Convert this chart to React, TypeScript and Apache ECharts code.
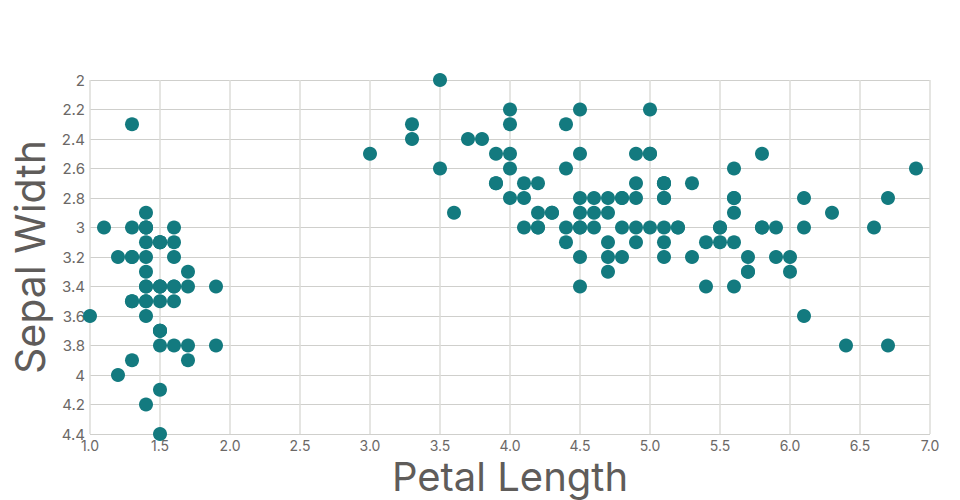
import React, { useEffect, useRef } from "react";
import * as echarts from "echarts";

const petalLength: number[] = [
  1.4, 1.4, 1.3, 1.5, 1.4, 1.7, 1.4, 1.5, 1.4, 1.5, 1.5, 1.6, 1.4, 1.1, 1.2, 1.5, 1.3, 1.4, 1.7, 1.5,
  1.7, 1.5, 1.0, 1.7, 1.9, 1.6, 1.6, 1.5, 1.4, 1.6, 1.6, 1.5, 1.5, 1.4, 1.5, 1.2, 1.3, 1.4, 1.3, 1.5,
  1.3, 1.3, 1.3, 1.6, 1.9, 1.4, 1.6, 1.4, 1.5, 1.4,
  4.7, 4.5, 4.9, 4.0, 4.6, 4.5, 4.7, 3.3, 4.6, 3.9, 3.5, 4.2, 4.0, 4.7, 3.6, 4.4, 4.5, 4.1, 4.5, 3.9,
  4.8, 4.0, 4.9, 4.7, 4.3, 4.4, 4.8, 5.0, 4.5, 3.5, 3.8, 3.7, 3.9, 5.1, 4.5, 4.5, 4.7, 4.4, 4.1, 4.0,
  4.4, 4.6, 4.0, 3.3, 4.2, 4.2, 4.2, 4.3, 3.0, 4.1,
  6.0, 5.1, 5.9, 5.6, 5.8, 6.6, 4.5, 6.3, 5.8, 6.1, 5.1, 5.3, 5.5, 5.0, 5.1, 5.3, 5.5, 6.7, 6.9, 5.0,
  5.7, 4.9, 6.7, 4.9, 5.7, 6.0, 4.8, 4.9, 5.6, 5.8, 6.1, 6.4, 5.6, 5.1, 5.6, 6.1, 5.6, 5.5, 4.8, 5.4,
  5.6, 5.1, 5.1, 5.9, 5.7, 5.2, 5.0, 5.2, 5.4, 5.1,
];

const sepalWidth: number[] = [
  3.5, 3.0, 3.2, 3.1, 3.6, 3.9, 3.4, 3.4, 2.9, 3.1, 3.7, 3.4, 3.0, 3.0, 4.0, 4.4, 3.9, 3.5, 3.8, 3.8,
  3.4, 3.7, 3.6, 3.3, 3.4, 3.0, 3.4, 3.5, 3.4, 3.2, 3.1, 3.4, 4.1, 4.2, 3.1, 3.2, 3.5, 3.1, 3.0, 3.4,
  3.5, 2.3, 3.2, 3.5, 3.8, 3.0, 3.8, 3.2, 3.7, 3.3,
  3.2, 3.2, 3.1, 2.3, 2.8, 2.8, 3.3, 2.4, 2.9, 2.7, 2.0, 3.0, 2.2, 2.9, 2.9, 3.1, 3.0, 2.7, 2.2, 2.5,
  3.2, 2.8, 2.5, 2.8, 2.9, 3.0, 2.8, 3.0, 2.9, 2.6, 2.4, 2.4, 2.7, 2.7, 3.0, 3.4, 3.1, 2.3, 3.0, 2.5,
  2.6, 3.0, 2.6, 2.3, 2.7, 3.0, 2.9, 2.9, 2.5, 2.8,
  3.3, 2.7, 3.0, 2.9, 3.0, 3.0, 2.5, 2.9, 2.5, 3.6, 3.2, 2.7, 3.0, 2.5, 2.8, 3.2, 3.0, 3.8, 2.6, 2.2,
  3.2, 2.8, 2.8, 2.7, 3.3, 3.2, 2.8, 3.0, 2.8, 3.0, 2.8, 3.8, 2.8, 2.8, 2.6, 3.0, 3.4, 3.1, 3.0, 3.1,
  3.1, 3.1, 2.7, 3.2, 3.3, 3.0, 2.5, 3.0, 3.4, 3.0,
];

const FONT = "Inter, 'Noto Sans', sans-serif";

export default function App() {
  const ref = useRef<HTMLDivElement>(null);
  useEffect(() => {
    if (!ref.current) return;
    const chart = echarts.init(ref.current, undefined, { renderer: "svg" });
    const data = petalLength.map((x, i) => [x, sepalWidth[i]]);
    chart.setOption({
      animation: false,
      textStyle: { fontFamily: FONT },
      grid: {
        left: 90,
        right: 30,
        top: 80,
        bottom: 66,
        containLabel: false,
        outerBoundsMode: "none",
      },
      xAxis: {
        type: "value",
        min: 1,
        max: 7,
        interval: 0.5,
        name: "Petal Length",
        nameLocation: "middle",
        nameGap: 9,
        nameTextStyle: { fontSize: 40, color: "#5f5c5a", fontFamily: FONT },
        axisLine: { show: false },
        axisTick: { show: false },
        axisLabel: {
          color: "#6b6866",
          fontSize: 14,
          margin: 4,
          formatter: (v: number) => v.toFixed(1),
        },
        splitLine: { show: true, lineStyle: { color: "#dcdcd8", width: 1.5 } },
      },
      yAxis: {
        type: "value",
        inverse: true,
        min: 2,
        max: 4.4,
        interval: 0.2,
        name: "Sepal Width",
        nameLocation: "middle",
        nameGap: 40,
        nameRotate: 90,
        nameTextStyle: { fontSize: 41, color: "#5f5c5a", fontFamily: FONT },
        axisLine: { show: false },
        axisTick: { show: false },
        axisLabel: { color: "#6b6866", fontSize: 15, margin: 5 },
        splitLine: { show: true, lineStyle: { color: "#cfcfcc", width: 1 } },
      },
      series: [
        {
          type: "scatter",
          data,
          symbolSize: 14,
          itemStyle: { color: "#137a7f", opacity: 1 },
        },
      ],
    });
    return () => chart.dispose();
  }, []);
  return <div ref={ref} style={{ width: 960, height: 500, position: "absolute", left: 0, top: 0 }} />;
}
